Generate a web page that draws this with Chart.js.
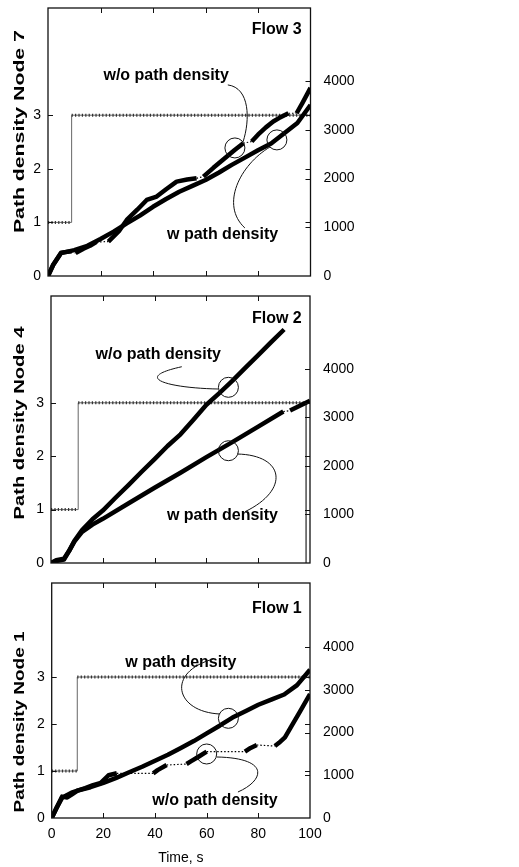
<!DOCTYPE html>
<html>
<head>
<meta charset="utf-8">
<script src="https://cdn.jsdelivr.net/npm/chart.js@4.4.1/dist/chart.umd.min.js"></script>
<style>
  html, body { margin: 0; padding: 0; background: #fff; }
  #wrap { position: relative; width: 519px; height: 867px; }
  canvas { position: absolute; left: 0; }
</style>
</head>
<body>
<div id="wrap">
  <canvas id="flow3" width="519" height="290" style="top:0"></canvas>
  <canvas id="flow2" width="519" height="290" style="top:290px"></canvas>
  <canvas id="flow1" width="519" height="287" style="top:580px"></canvas>
</div>
<script>
// Flow 3 / node 7
const flow3WT = [0, 2, 5, 10, 15, 20, 25, 30, 35, 40, 45, 50, 55, 60, 65, 70, 75, 80, 85, 90, 95, 100];
const flow3WV = [0, 230, 470, 530, 620, 760, 910, 1080, 1240, 1420, 1580, 1730, 1850, 1970, 2120, 2280, 2430, 2580, 2720, 2930, 3140, 3510];
const flow3WoT = [0, 2, 5, 9, 10.5, 13.5, 16, 18.5, 23, 27, 30, 34, 37.6, 41.4, 45, 49, 53, 56.6, 59.2, 63, 67, 71, 74.4, 77.6, 80, 83, 85.8, 88, 91.6, 94.7, 97, 100];
const flow3WoV = [0, 230, 480, 510, 470, 560, 620, 700, 705, 920, 1150, 1360, 1560, 1630, 1780, 1937, 1980, 2005, 2040, 2220, 2400, 2580, 2725, 2760, 2900, 3050, 3170, 3240, 3340, 3340, 3560, 3860];
const flow3WoGaps = [9, 18.5, 56.6, 74.4, 91.6];
const node7T = [0, 9, 9, 100];
const node7D = [1, 1, 3, 3];

// Flow 2 / node 4
const flow2WT = [0, 2, 5, 7, 9, 12, 16, 20, 30, 40, 50, 60, 70, 80, 89.7, 92.3, 100];
const flow2WV = [0, 40, 70, 250, 440, 640, 790, 910, 1230, 1550, 1860, 2180, 2490, 2810, 3120, 3140, 3340];
const flow2WGaps = [89.7];
const flow2WoT = [0, 2, 5, 7, 9, 12, 16, 20, 25, 30, 35, 40, 45, 50, 55, 60, 65, 70, 75, 80, 85, 90];
const flow2WoV = [0, 60, 90, 250, 450, 680, 900, 1080, 1350, 1610, 1880, 2140, 2410, 2650, 2950, 3260, 3500, 3750, 4020, 4280, 4550, 4810];
const node4T = [0, 10.5, 10.5, 98.5, 98.5];
const node4D = [1, 1, 3, 3, 0];

// Flow 1 / node 1
const flow1WT = [0, 2, 4, 6, 8, 10, 15, 20, 25, 30, 35, 40, 45, 50, 55, 60, 65, 70, 75, 80, 85, 90, 95, 100];
const flow1WV = [0, 250, 470, 540, 600, 640, 720, 820, 940, 1070, 1200, 1340, 1480, 1640, 1800, 1980, 2160, 2350, 2500, 2650, 2770, 2890, 3110, 3470];
const flow1WoT = [0, 2, 4, 6, 8, 10, 13, 16, 19, 22, 25.2, 39.3, 41, 44.5, 52.2, 54, 57, 60, 74.8, 77, 79.4, 86.4, 88, 90.3, 93, 96, 100];
const flow1WoV = [0, 250, 500, 480, 560, 640, 700, 770, 820, 1000, 1046, 1046, 1120, 1240, 1263, 1330, 1440, 1552, 1552, 1640, 1708, 1685, 1760, 1888, 2170, 2480, 2900];
const flow1WoGaps = [25.2, 44.5, 60, 79.4];
const node1T = [0, 9.9, 9.9, 100];
const node1D = [1, 1, 3, 3];

const timeTicks = [0, 20, 40, 60, 80, 100];
const densityTicks = [0, 1, 2, 3];
const rateTicks = [0, 1000, 2000, 3000, 4000];

const FONT = '"Liberation Sans", Arial, Helvetica, sans-serif';

function pts(ts, vs) {
  return ts.map((t, i) => ({ x: t, y: vs[i] }));
}

// frame, inward ticks, y title and the callouts
const decor = {
  id: 'decor',
  afterDraw(chart, args, o) {
    const { ctx, chartArea: a, scales } = chart;
    const X = t => scales.x.getPixelForValue(t);
    const Y2 = v => scales.y2.getPixelForValue(v);
    const seg = (x1, y1, x2, y2) => { ctx.beginPath(); ctx.moveTo(x1, y1); ctx.lineTo(x2, y2); ctx.stroke(); };
    ctx.save();
    ctx.strokeStyle = '#111';
    ctx.lineWidth = 1;
    timeTicks.forEach(t => {
      if (t <= 0 || t >= 100) return;
      const px = Math.round(X(t)) + 0.5;
      seg(px, a.bottom, px, a.bottom - 5);
      seg(px, a.top, px, a.top + 5);
    });
    densityTicks.forEach(d => {
      if (d === 0) return;
      const py = Math.round(scales.y.getPixelForValue(d)) + 0.5;
      seg(a.left, py, a.left + 5, py);
      seg(a.right, py, a.right - 5, py);
    });
    rateTicks.forEach(v => {
      if (v === 0) return;
      const py = Math.round(Y2(v)) + 0.5;
      seg(a.right, py, a.right - 5, py);
    });
    ctx.lineWidth = 1.3;
    ctx.strokeRect(a.left, a.top, a.right - a.left, a.bottom - a.top);

    // rotated axis title, stretched along its length
    ctx.fillStyle = '#000';
    ctx.save();
    ctx.translate(o.titleX, o.titleY);
    ctx.rotate(-Math.PI / 2);
    ctx.font = 'bold 15px ' + FONT;
    const tw = ctx.measureText(o.yTitle).width;
    ctx.scale(o.titleLen / tw, 1);
    ctx.textAlign = 'center';
    ctx.textBaseline = 'middle';
    ctx.fillText(o.yTitle, 0, 0);
    ctx.restore();

    ctx.font = 'bold 16px ' + FONT;
    ctx.textBaseline = 'middle';
    ctx.textAlign = 'right';
    ctx.fillText(o.flow.text, X(o.flow.t), Y2(o.flow.v));
    ctx.textAlign = 'center';
    o.labels.forEach(l => ctx.fillText(l.text, X(l.t), Y2(l.v)));

    ctx.lineWidth = 1;
    o.circles.forEach(c => {
      ctx.beginPath();
      ctx.arc(X(c.t), Y2(c.v), 10, 0, Math.PI * 2);
      ctx.stroke();
    });
    o.leaders.forEach(p => {
      ctx.beginPath();
      ctx.moveTo(X(p[0][0]), Y2(p[0][1]));
      ctx.bezierCurveTo(X(p[1][0]), Y2(p[1][1]), X(p[2][0]), Y2(p[2][1]), X(p[3][0]), Y2(p[3][1]));
      ctx.stroke();
    });
    ctx.restore();
  }
};

function rateSets(ts, vs, gaps) {
  const data = pts(ts, vs);
  const isGap = c => gaps.includes(c.p0.parsed.x);
  return [
    {
      data, yAxisID: 'y2', borderColor: '#000', borderWidth: 4.5, pointRadius: 0,
      borderJoinStyle: 'round', tension: 0,
      segment: { borderColor: c => isGap(c) ? 'rgba(0,0,0,0)' : '#000' }
    },
    {
      data, yAxisID: 'y2', borderColor: '#000', borderWidth: 1.2, pointRadius: 0,
      borderDash: [1.5, 2], tension: 0,
      segment: { borderColor: c => isGap(c) ? '#000' : 'rgba(0,0,0,0)' }
    }
  ];
}

function densitySets(ts, ds) {
  const data = pts(ts, ds);
  const vertical = c => c.p0.parsed.x === c.p1.parsed.x;
  return [
    {
      data, yAxisID: 'y', borderColor: '#333', borderWidth: 3, pointRadius: 0,
      borderDash: [1.2, 2.2], tension: 0,
      segment: { borderColor: c => vertical(c) ? 'rgba(0,0,0,0)' : '#333' }
    },
    { data, yAxisID: 'y', borderColor: '#666', borderWidth: 1, pointRadius: 0, tension: 0 }
  ];
}

function fixTicks(list) {
  return s => { s.ticks = list.map(v => ({ value: v })); };
}

const plain = v => String(v);

function makeChart(id, p) {
  const tickFont = { family: FONT, size: 14 };
  return new Chart(document.getElementById(id), {
    type: 'line',
    data: {
      datasets: [
        ...rateSets(p.wT, p.wV, p.wGaps),
        ...rateSets(p.woT, p.woV, p.woGaps),
        ...densitySets(p.dT, p.dD)
      ]
    },
    options: {
      responsive: false,
      animation: false,
      devicePixelRatio: 1,
      layout: { padding: { top: p.top, left: 0, right: 0, bottom: 0 } },
      plugins: {
        legend: { display: false },
        tooltip: { enabled: false },
        decor: p.decor
      },
      scales: {
        x: {
          type: 'linear', min: 0, max: 100,
          afterBuildTicks: fixTicks(timeTicks),
          ticks: { display: p.showX, autoSkip: false, padding: 8, font: tickFont, color: '#000', callback: plain },
          grid: { display: false, drawTicks: false },
          border: { display: false },
          title: { display: p.showX, text: 'Time, s', font: tickFont, color: '#000', padding: 0 },
          afterFit: s => { s.height = p.xh; s.paddingLeft = 0; s.paddingRight = 0; }
        },
        y: {
          position: 'left', min: 0, max: 5,
          afterBuildTicks: fixTicks(densityTicks),
          ticks: { autoSkip: false, padding: 7, font: tickFont, color: '#000', callback: plain },
          grid: { display: false, drawTicks: false },
          border: { display: false },
          afterFit: s => { s.width = p.left; s.paddingTop = 0; s.paddingBottom = 0; }
        },
        y2: {
          position: 'right', min: 0, max: 5500,
          afterBuildTicks: fixTicks(rateTicks),
          ticks: { autoSkip: false, padding: 13, font: tickFont, color: '#000', callback: plain },
          grid: { display: false, drawTicks: false },
          border: { display: false },
          afterFit: s => { s.width = 519 - p.right; s.paddingTop = 0; s.paddingBottom = 0; }
        }
      }
    },
    plugins: [decor]
  });
}

makeChart('flow3', {
  wT: flow3WT, wV: flow3WV, wGaps: [],
  woT: flow3WoT, woV: flow3WoV, woGaps: flow3WoGaps,
  dT: node7T, dD: node7D,
  top: 8, left: 48, right: 310.5, xh: 14, showX: false,
  decor: {
    yTitle: 'Path density Node 7', titleX: 20, titleY: 131.6, titleLen: 203,
    flow: { text: 'Flow 3', t: 96.6, v: 5051 },
    labels: [{ text: 'w/o path density', t: 45, v: 4107 }, { text: 'w path density', t: 66.5, v: 842 }],
    circles: [{ t: 71.2, v: 2628 }, { t: 87.2, v: 2793 }],
    leaders: [
      [[68.5, 3922], [77, 3860], [77, 3203], [74.3, 2752]],
      [[84.6, 2649], [73.1, 2279], [65.5, 1458], [75, 986]]
    ]
  }
});

makeChart('flow2', {
  wT: flow2WT, wV: flow2WV, wGaps: flow2WGaps,
  woT: flow2WoT, woV: flow2WoV, woGaps: [],
  dT: node4T, dD: node4D,
  top: 6, left: 51, right: 310, xh: 17, showX: false,
  decor: {
    yTitle: 'Path density Node 4', titleX: 20, titleY: 133, titleLen: 193,
    flow: { text: 'Flow 2', t: 96.8, v: 5026 },
    labels: [{ text: 'w/o path density', t: 41.4, v: 4284 }, { text: 'w path density', t: 66.2, v: 968 }],
    circles: [{ t: 68.5, v: 3619 }, { t: 68.5, v: 2313 }],
    leaders: [
      [[50.5, 4043], [30.5, 3810], [45.9, 3604], [64.5, 3584]],
      [[71.9, 2245], [90.3, 2225], [92.3, 1504], [74.9, 1057]]
    ]
  }
});

makeChart('flow1', {
  wT: flow1WT, wV: flow1WV, wGaps: [],
  woT: flow1WoT, woV: flow1WoV, woGaps: flow1WoGaps,
  dT: node1T, dD: node1D,
  top: 3, left: 51.7, right: 310, xh: 49, showX: true,
  decor: {
    yTitle: 'Path density Node 1', titleX: 20, titleY: 142, titleLen: 181,
    flow: { text: 'Flow 1', t: 96.8, v: 4891 },
    labels: [{ text: 'w path density', t: 50, v: 3639 }, { text: 'w/o path density', t: 63.2, v: 398 }],
    circles: [{ t: 68.4, v: 2333 }, { t: 60, v: 1498 }],
    leaders: [
      [[62.6, 3721], [44.1, 3416], [47.7, 2481], [65.2, 2434]],
      [[63.9, 1428], [84.5, 1404], [82.6, 889], [72.1, 608]]
    ]
  }
});
</script>
</body>
</html>
